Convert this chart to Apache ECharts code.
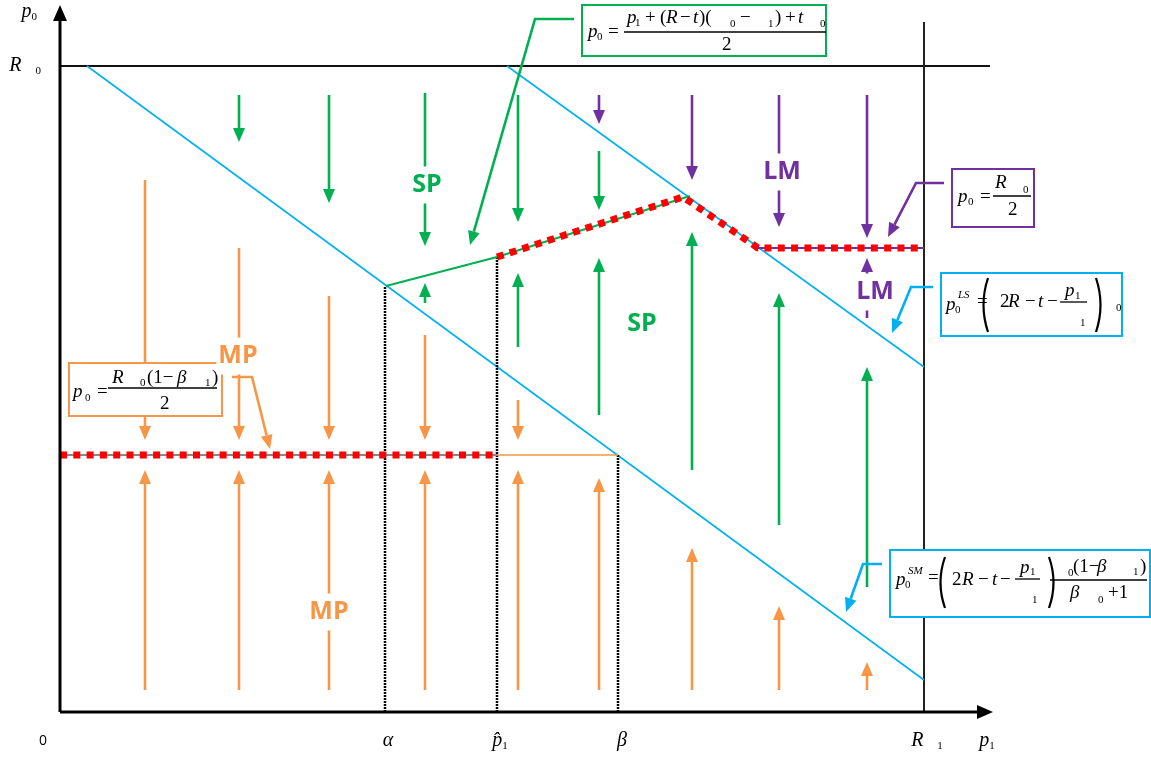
<!DOCTYPE html>
<html>
<head>
<meta charset="utf-8">
<script src="https://cdn.jsdelivr.net/npm/echarts@6/dist/echarts.min.js"></script>
<style>
html, body { margin: 0; padding: 0; background: #fff; }
#chart { width: 1151px; height: 759px; }
</style>
</head>
<body>
<div id="chart"></div>
<script>
// value space: x = p1, y = p0, origin at the axes corner
const xTickValues = [-17, 328, 440, 562, 867, 927];
const xTickLabels = ['{n|0}', '{i|α}', '{i|p\u0302}{s|1}', '{i|β}', '{i|R}{g| }{s|1}', '{i|p}{s|1}'];
const yTickValues = [646, 700];
const yTickLabels = ['{i|R}{g| }{s|0}', '{i|p}{s|0}{g2| }'];

// reference lines
const axisX = [[0, 0], [933, 0]];
const axisY = [[0, 0], [0, 707]];
const lineR0 = [[0, 646], [930, 646]];
const lineR1 = [[864, 0], [864, 690]];
const lineSM = [[27, 646], [864, 32]];
const lineLS = [[447, 646], [864, 345]];
const greenPath = [[326, 426], [437, 455], [630, 516]];
const upperOptimum = [[437, 455], [623, 515], [698, 464], [864, 464]];
const purpleFlat = [[698, 464], [864, 464]];
const lowerOptimum = [[0, 257], [437, 257]];
const orangeFlat = [[437, 257], [558, 257]];
const dropAlpha = [[325, 0], [325, 426]];
const dropPHat = [[437, 0], [437, 455]];
const dropBeta = [[558, 0], [558, 257]];

// direction arrows: [x, from, to]
const greenDown = [[179, 617, 570], [269, 617, 509], [365, 619, 466], [458, 617, 490], [539, 561, 502]];
const purpleDown = [[539, 617, 588], [632, 617, 532], [719, 617, 485], [807, 617, 474]];
const greenUp = [[365, 409, 429], [458, 365, 439], [539, 297, 454], [632, 242, 480], [719, 187, 419], [807, 125, 345]];
const purpleUp = [[807, 394, 454]];
const orangeDown = [[85, 532, 272], [179, 464, 272], [269, 416, 272], [365, 377, 272], [458, 312, 272]];
const orangeUp = [[85, 22, 242], [179, 22, 242], [269, 22, 242], [365, 22, 242], [458, 22, 242],
                  [539, 22, 234], [632, 22, 164], [719, 22, 106], [807, 22, 50]];

// region labels
const regionNames = ['SP', 'SP', 'MP', 'MP', 'LM', 'LM'];
const regionX = [367, 582, 178, 269, 722, 815];
const regionY = [527, 388, 356, 100, 540, 420];

// formula boxes (top-left corner in value space) and their leader lines
const boxCorners = [[522, 707], [892, 543], [881, 439], [9, 349], [830, 162]];
const leaders = [
    [514, 693, 475, 693, 410, 467],
    [884, 529, 856, 529, 828, 475],
    [873, 425, 851, 425, 832, 379],
    [172, 335, 192, 335, 210, 263],
    [822, 148, 803, 148, 786, 100]
];

const BLUE = '#00b0f0', GREEN = '#00b050', ORANGE = '#f79646', PURPLE = '#7030a0', RED = '#ff0000';
const regionColor = { SP: GREEN, MP: ORANGE, LM: PURPLE };

// box layouts: pieces are [text, dx, dy, kind], bars are [x1, x2, y], parens are [side, x, yTop, yBottom]
const formulas = [
    { w: 244, h: 51, color: GREEN,
      pieces: [['p', 6, 27, 'i'], ['0', 15, 32, 's'], ['=', 26, 27, 'n'],
               ['p', 45, 13, 'i'], ['1', 53, 18, 's'], ['+', 63, 13, 'n'], ['(', 78, 13, 'n'], ['R', 84, 13, 'i'],
               ['−', 98, 13, 'n'], ['t', 111, 13, 'i'], [')(', 117, 13, 'n'], ['0', 148, 19, 's'], ['−', 158, 13, 'n'],
               ['1', 186, 19, 's'], [')', 193, 13, 'n'], ['+', 203, 13, 'n'], ['t', 216, 13, 'i'], ['0', 238, 19, 's'],
               ['2', 140, 40, 'n']],
      bars: [[42, 244, 27]], parens: [] },
    { w: 82, h: 58, color: PURPLE,
      pieces: [['p', 6, 28, 'i'], ['0', 16, 33, 's'], ['=', 28, 28, 'n'], ['R', 43, 14, 'i'], ['0', 71, 21, 's'], ['2', 56, 41, 'n']],
      bars: [[41, 79, 27]], parens: [] },
    { w: 181, h: 63, color: BLUE,
      pieces: [['p', 5, 32, 'i'], ['0', 14, 37, 's'], ['LS', 17, 22, 'si'], ['=', 36, 29, 'n'],
               ['2', 59, 29, 'n'], ['R', 67, 29, 'i'], ['−', 84, 29, 'n'], ['t', 97, 29, 'i'], ['−', 106, 29, 'n'],
               ['p', 124, 18, 'i'], ['1', 134, 23, 's'], ['1', 139, 50, 's'], ['0', 175, 35, 's']],
      bars: [[119, 146, 29]], parens: [[-1, 47, 5, 59], [1, 155, 5, 59]] },
    { w: 153, h: 53, color: ORANGE,
      pieces: [['p', 4, 29, 'i'], ['0', 16, 35, 's'], ['=', 28, 29, 'n'], ['R', 43, 15, 'i'], ['0', 71, 20, 's'],
               ['(1−', 78, 15, 'n'], ['β', 108, 15, 'i'], ['1', 136, 20, 's'], [')', 143, 15, 'n'], ['2', 91, 41, 'n']],
      bars: [[39, 148, 25]], parens: [] },
    { w: 260, h: 67, color: BLUE,
      pieces: [['p', 6, 30, 'i'], ['0', 15, 35, 's'], ['SM', 18, 21, 'si'], ['=', 38, 28, 'n'],
               ['2', 62, 30, 'n'], ['R', 72, 30, 'i'], ['−', 88, 30, 'n'], ['t', 102, 30, 'i'], ['−', 110, 30, 'n'],
               ['p', 130, 18, 'i'], ['1', 140, 22, 's'], ['1', 142, 50, 's'],
               ['0', 178, 23, 's'], ['(1−', 183, 17, 'n'], ['β', 207, 17, 'i'], ['1', 243, 22, 's'], [')', 250, 17, 'n'],
               ['β', 180, 43, 'i'], ['0', 208, 50, 's'], ['+1', 218, 43, 'n']],
      bars: [[125, 150, 29], [160, 257, 30]], parens: [[-1, 55, 7, 58], [1, 159, 7, 58]] }
];

const SERIF = '"Liberation Serif", "DejaVu Serif", serif';
const pieceFont = {
    i: { fontFamily: SERIF, fontStyle: 'italic', fontSize: 19 },
    n: { fontFamily: SERIF, fontSize: 19 },
    s: { fontFamily: SERIF, fontSize: 11 },
    si: { fontFamily: SERIF, fontStyle: 'italic', fontSize: 11 }
};

function arrowShape(pts, color, width, hl, hw) {
    const n = pts.length, tip = pts[n - 1], prev = pts[n - 2];
    const dx = tip[0] - prev[0], dy = tip[1] - prev[1], len = Math.hypot(dx, dy);
    const ux = dx / len, uy = dy / len;
    const base = [tip[0] - ux * hl, tip[1] - uy * hl];
    return {
        type: 'group',
        children: [
            { type: 'polyline', shape: { points: pts.slice(0, n - 1).concat([base]) },
              style: { stroke: color, lineWidth: width, fill: null } },
            { type: 'polygon', shape: { points: [tip, [base[0] - uy * hw, base[1] + ux * hw], [base[0] + uy * hw, base[1] - ux * hw]] },
              style: { fill: color } }
        ]
    };
}

function arrowSeries(data, color) {
    return {
        type: 'custom', data: data, encode: { x: 0, y: [1, 2] }, silent: true, z: 3,
        renderItem: function (params, api) {
            const a = api.coord([api.value(0), api.value(1)]);
            const b = api.coord([api.value(0), api.value(2)]);
            return arrowShape([a, b], color, 2.6, 14, 6);
        }
    };
}

function lineSeries(points, color, width, type, z) {
    return {
        type: 'line', data: points, symbol: 'none', silent: true, z: z || 2,
        lineStyle: { color: color, width: width, type: type || 'solid', cap: 'butt' }
    };
}

let chart = echarts.init(document.getElementById('chart'));

let labelData = regionNames.map(function (n, i) {
    return { name: n, value: [regionX[i], regionY[i]], label: { color: regionColor[n] } };
});

let series = [
    lineSeries(lineR0, '#111', 2),
    lineSeries(lineR1, '#222', 2),
    lineSeries(lineSM, BLUE, 1.6),
    lineSeries(lineLS, BLUE, 1.6),
    lineSeries(dropAlpha, '#000', 2.5, [2, 1]),
    lineSeries(dropPHat, '#000', 2.5, [2, 1]),
    lineSeries(dropBeta, '#000', 2.5, [2, 1]),
    lineSeries(greenPath, GREEN, 2),
    lineSeries(purpleFlat, PURPLE, 2),
    lineSeries(lowerOptimum, '#888', 2),
    lineSeries(orangeFlat, ORANGE, 1.6),
    arrowSeries(greenDown, GREEN),
    arrowSeries(purpleDown, PURPLE),
    arrowSeries(greenUp, GREEN),
    arrowSeries(purpleUp, PURPLE),
    arrowSeries(orangeDown, ORANGE),
    arrowSeries(orangeUp, ORANGE),
    lineSeries(upperOptimum, RED, 7, [7, 6.3], 4),
    lineSeries(lowerOptimum, RED, 7, [7, 6.3], 4),
    {
        // the two axes with arrow heads
        type: 'custom', data: [axisX[0].concat(axisX[1]), axisY[0].concat(axisY[1])],
        encode: { x: [0, 2], y: [1, 3] }, silent: true, z: 5,
        renderItem: function (params, api) {
            const a = api.coord([api.value(0), api.value(1)]);
            const b = api.coord([api.value(2), api.value(3)]);
            return arrowShape([a, b], '#000', 3, 16, 7);
        }
    },
    {
        type: 'custom', data: boxCorners, encode: { x: 0, y: 1 }, silent: true, z: 6,
        renderItem: function (params, api) {
            const f = formulas[params.dataIndex];
            const o = api.coord([api.value(0), api.value(1)]);
            const children = [{ type: 'rect', shape: { x: o[0], y: o[1], width: f.w, height: f.h },
                                style: { fill: '#fff', stroke: f.color, lineWidth: 2 } }];
            f.bars.forEach(function (b) {
                children.push({ type: 'line', shape: { x1: o[0] + b[0], y1: o[1] + b[2], x2: o[0] + b[1], y2: o[1] + b[2] },
                                style: { stroke: '#000', lineWidth: 1.3 } });
            });
            f.parens.forEach(function (p) {
                const x = o[0] + p[1], y1 = o[1] + p[2], y2 = o[1] + p[3];
                children.push({ type: 'bezierCurve',
                                shape: { x1: x, y1: y1, x2: x, y2: y2, cpx1: x + p[0] * 9, cpy1: (y1 + y2) / 2 },
                                style: { stroke: '#000', lineWidth: 2.2, fill: null } });
            });
            f.pieces.forEach(function (p) {
                children.push({ type: 'text', x: o[0] + p[1], y: o[1] + p[2],
                                style: Object.assign({ text: p[0], fill: '#000', align: 'left', verticalAlign: 'middle' }, pieceFont[p[3]]) });
            });
            return { type: 'group', children: children };
        }
    },
    {
        type: 'custom', data: leaders, encode: { x: [0, 2, 4], y: [1, 3, 5] }, silent: true, z: 6,
        renderItem: function (params, api) {
            const pts = [0, 2, 4].map(function (i) { return api.coord([api.value(i), api.value(i + 1)]); });
            return arrowShape(pts, formulas[params.dataIndex].color, 2.6, 14, 6);
        }
    },
    {
        type: 'scatter', symbolSize: 0, silent: true, z: 7, data: labelData,
        itemStyle: { opacity: 1 },
        label: {
            show: true, position: 'inside',
            formatter: function (p) { return p.name; },
            fontFamily: '"Open Sans", sans-serif', fontWeight: 'bold', fontSize: 25,
            backgroundColor: '#fff', padding: [6, 2]
        },
        labelLayout: { hideOverlap: false }
    }
];

const labelRich = {
    i: { fontFamily: SERIF, fontStyle: 'italic', fontSize: 20, lineHeight: 22, color: '#000' },
    s: { fontFamily: SERIF, fontSize: 11, lineHeight: 12, verticalAlign: 'bottom', color: '#000' },
    n: { fontFamily: '"Open Sans", sans-serif', fontSize: 14, lineHeight: 22, color: '#000' },
    g: { width: 14 },
    g2: { width: 4 }
};

chart.setOption({
    animation: false,
    grid: { left: 0, right: 0, top: 0, bottom: 0 },
    xAxis: {
        type: 'value', min: -60, max: 1091, position: 'bottom', offset: -47,
        axisLine: { show: false }, axisTick: { show: false }, splitLine: { show: false },
        axisLabel: {
            customValues: xTickValues, margin: 18, rich: labelRich,
            formatter: function (v) { const k = xTickValues.indexOf(v); return k < 0 ? '' : xTickLabels[k]; }
        }
    },
    yAxis: {
        type: 'value', min: -47, max: 712, position: 'left', offset: -60,
        axisLine: { show: false }, axisTick: { show: false }, splitLine: { show: false },
        axisLabel: {
            customValues: yTickValues, margin: 19, rich: labelRich,
            formatter: function (v) { const k = yTickValues.indexOf(v); return k < 0 ? '' : yTickLabels[k]; }
        }
    },
    series: series
});
</script>
</body>
</html>
